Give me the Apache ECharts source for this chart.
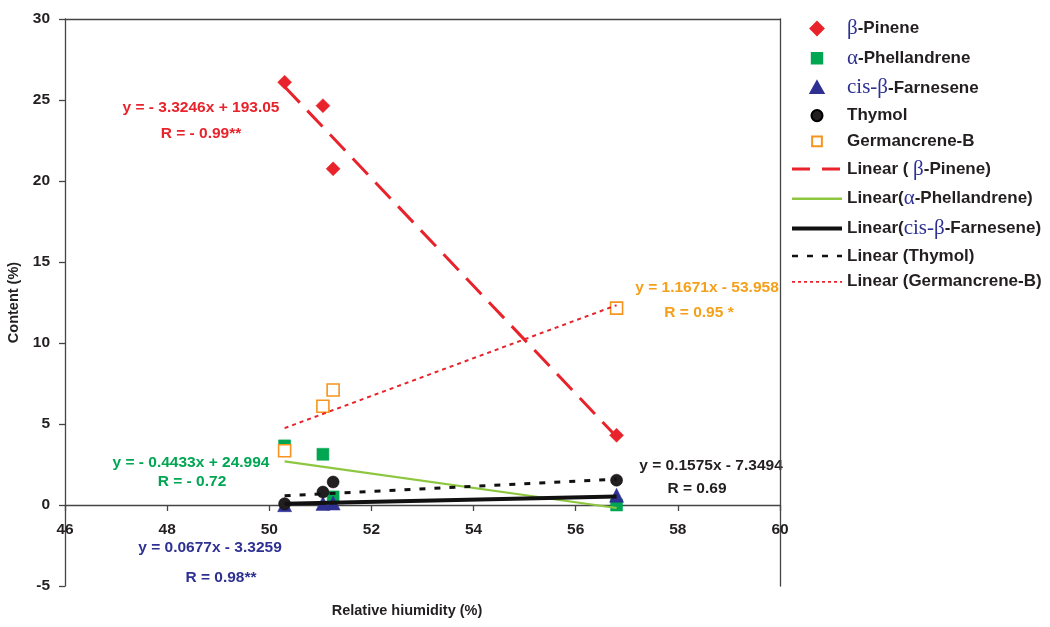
<!DOCTYPE html>
<html>
<head>
<meta charset="utf-8">
<script src="https://cdn.jsdelivr.net/npm/echarts@6/dist/echarts.min.js"></script>
<style>html,body{margin:0;padding:0;background:#fff}#c{width:1050px;height:627px}</style>
</head>
<body>
<div id="c"></div>
<script>
const humidity = [50.3, 51.05, 51.25, 56.8];
const betaPinene = [26.1, 24.65, 20.75, 4.3];
const alphaPhellandrene = [3.65, 3.13, 0.5, 0.0];
const cisBetaFarnesene = [0.02, 0.1, 0.12, 0.6];
const thymol = [0.08, 0.8, 1.42, 1.53];
const germacreneB = [3.35, 6.1, 7.1, 12.15];
const seriesNames = ['β-Pinene', 'α-Phellandrene', 'cis-β-Farnesene', 'Thymol', 'Germancrene-B'];
const trendNames = ['Linear ( β-Pinene)', 'Linear(α-Phellandrene)', 'Linear(cis-β-Farnesene)', 'Linear (Thymol)', 'Linear (Germancrene-B)'];
const slopes = [-3.3246, -0.4433, 0.0677, 0.1575, 1.1671];
const intercepts = [193.05, 24.994, -3.3259, -7.3494, -53.958];
const equations = ['y = - 3.3246x + 193.05', 'y = - 0.4433x + 24.994', 'y = 0.0677x - 3.3259', 'y = 0.1575x - 7.3494', 'y = 1.1671x - 53.958'];
const rValues = ['R = - 0.99**', 'R = - 0.72', 'R = 0.98**', 'R = 0.69', 'R = 0.95 *'];
const xTicks = {min: 46, max: 60, interval: 2};
const yTicks = {min: -5, max: 30, interval: 5};

const allValues = [betaPinene, alphaPhellandrene, cisBetaFarnesene, thymol, germacreneB];
const pts = v => humidity.map((x, i) => [x, v[i]]);
const xMin = Math.min(...humidity), xMax = Math.max(...humidity);
const trend = k => [[xMin, slopes[k] * xMin + intercepts[k]], [xMax, slopes[k] * xMax + intercepts[k]]];

const markerColors = ['#e8232b', '#00a651', '#2e3192', '#231f20', '#f7941d'];
const symbols = ['diamond', 'rect', 'triangle', 'circle', 'rect'];
const symbolSizes = [14, 12, 14, 12, 12];
const legendIcons = [
  'path://M0,-1L1,0L0,1L-1,0Z',
  'path://M-0.8,-0.8L0.8,-0.8L0.8,0.8L-0.8,0.8ZM-1,-1M1,1',
  'path://M0,-1L1,0.8L-1,0.8ZM-1,-1M1,1',
  'path://M-0.85,0A0.85,0.85,0,1,1,0.85,0A0.85,0.85,0,1,1,-0.85,0ZM-1,-1M1,1',
  'path://M-0.75,-0.75L0.75,-0.75L0.75,0.75L-0.75,0.75ZM-1,-1M1,1'
];
const trendStyles = [
  {color: '#e8232b', width: 3, type: [22, 11]},
  {color: '#8dc63f', width: 2.2, type: 'solid'},
  {color: '#111111', width: 4, type: 'solid'},
  {color: '#111111', width: 3, type: [6, 9]},
  {color: '#e8232b', width: 2, type: [4, 4]}
];
const legendLineStyles = [
  {color: '#e8232b', width: 3, type: [18, 12]},
  {color: '#8dc63f', width: 2.5, type: 'solid'},
  {color: '#111111', width: 4, type: 'solid'},
  {color: '#111111', width: 2.5, type: [6, 9]},
  {color: '#e8232b', width: 1.8, type: [3, 3]}
];

const series = [];
allValues.forEach((v, k) => {
  const hollow = k === 4;
  series.push({
    name: seriesNames[k], type: 'scatter', data: pts(v),
    symbol: symbols[k], symbolSize: symbolSizes[k], z: 3,
    itemStyle: hollow ? {color: '#ffffff', borderColor: markerColors[k], borderWidth: 1.6, opacity: 1}
                      : {color: markerColors[k], borderColor: k === 3 ? '#000' : markerColors[k], borderWidth: 0.5, opacity: 1}
  });
});
allValues.forEach((v, k) => {
  series.push({
    name: trendNames[k], type: 'line', data: trend(k), showSymbol: false, symbol: 'none',
    lineStyle: trendStyles[k], itemStyle: {color: trendStyles[k].color}, z: 4, silent: true
  });
});

const richNames = {
  'β-Pinene': '{g|β}-Pinene',
  'α-Phellandrene': '{g|α}-Phellandrene',
  'cis-β-Farnesene': '{g|cis-β}-Farnesene',
  'Thymol': 'Thymol',
  'Germancrene-B': 'Germancrene-B',
  'Linear ( β-Pinene)': 'Linear ( {g|β}-Pinene)',
  'Linear(α-Phellandrene)': 'Linear({g|α}-Phellandrene)',
  'Linear(cis-β-Farnesene)': 'Linear({g|cis-β}-Farnesene)',
  'Linear (Thymol)': 'Linear (Thymol)',
  'Linear (Germancrene-B)': 'Linear (Germancrene-B)'
};
const legendData = seriesNames.map((n, k) => ({name: n, icon: legendIcons[k]}))
  .concat(trendNames.map((n, k) => ({name: n, itemStyle: {opacity: 0, borderWidth: 0}, lineStyle: legendLineStyles[k]})));

const textColors = ['#e8232b', '#00a651', '#2e3192', '#231f20', '#f5a01a'];
const eqPos = [[201, 108, 201, 134], [191, 463, 192, 482], [210, 548, 221, 578], [711, 466, 697, 489], [707, 288, 699, 313]];
const graphics = [];
const eqFont = 'bold 15.5px "Liberation Sans", Arial';
equations.forEach((eq, k) => {
  const p = eqPos[k];
  graphics.push({type: 'text', x: p[0], y: p[1], style: {text: eq, fill: textColors[k], font: eqFont, align: 'center', verticalAlign: 'middle'}});
  graphics.push({type: 'text', x: p[2], y: p[3], style: {text: rValues[k], fill: textColors[k], font: eqFont, align: 'center', verticalAlign: 'middle'}});
});
graphics.push({type: 'text', x: 407, y: 611, style: {text: 'Relative hiumidity (%)', fill: '#231f20', font: 'bold 14.5px "Liberation Sans", Arial', align: 'center', verticalAlign: 'middle'}});

const axisColor = '#444444';
const chart = echarts.init(document.getElementById('c'));
chart.setOption({
  animation: false,
  backgroundColor: '#ffffff',
  grid: {left: 65, right: 270, top: 19, bottom: 41, outerBoundsMode: 'none', containLabel: false},
  xAxis: [{
    type: 'value', min: xTicks.min, max: xTicks.max, interval: xTicks.interval,
    offset: -81,
    axisLine: {onZero: false, lineStyle: {color: axisColor, width: 1.3}},
    axisTick: {show: true, length: 6, lineStyle: {color: axisColor, width: 1.3}},
    axisLabel: {color: '#231f20', fontWeight: 'bold', fontSize: 15.5, fontFamily: 'Liberation Sans', margin: 17},
    splitLine: {show: false}
  }, {
    type: 'value', position: 'top', min: xTicks.min, max: xTicks.max,
    axisLine: {show: true, onZero: false, lineStyle: {color: axisColor, width: 1.3}},
    axisTick: {show: false}, axisLabel: {show: false}, splitLine: {show: false}
  }],
  yAxis: [{
    type: 'value', min: yTicks.min, max: yTicks.max, interval: yTicks.interval,
    name: 'Content (%)', nameLocation: 'middle', nameGap: 40,
    nameTextStyle: {color: '#231f20', fontWeight: 'bold', fontSize: 14.5, fontFamily: 'Liberation Sans'},
    axisLine: {show: true, onZero: false, lineStyle: {color: axisColor, width: 1.3}},
    axisTick: {show: true, length: 6, lineStyle: {color: axisColor, width: 1.3}},
    axisLabel: {color: '#231f20', fontWeight: 'bold', fontSize: 15.5, fontFamily: 'Liberation Sans', margin: 15},
    splitLine: {show: false}
  }, {
    type: 'value', position: 'right', min: yTicks.min, max: yTicks.max,
    axisLine: {show: true, onZero: false, lineStyle: {color: axisColor, width: 1.3}},
    axisTick: {show: false}, axisLabel: {show: false}, splitLine: {show: false}
  }],
  legend: {
    orient: 'vertical', left: 785, top: 13, itemWidth: 50, itemHeight: 13, itemGap: 8.7,
    data: legendData, symbolKeepAspect: true,
    formatter: n => richNames[n],
    textStyle: {color: '#231f20', fontWeight: 'bold', fontSize: 17, fontFamily: 'Liberation Sans', lineHeight: 16,
      rich: {g: {fontFamily: 'Liberation Serif', fontWeight: 'normal', fontSize: 21, color: '#2e3192', lineHeight: 16}}},
    selectedMode: false
  },
  graphic: graphics,
  series: series
});
</script>
</body>
</html>
